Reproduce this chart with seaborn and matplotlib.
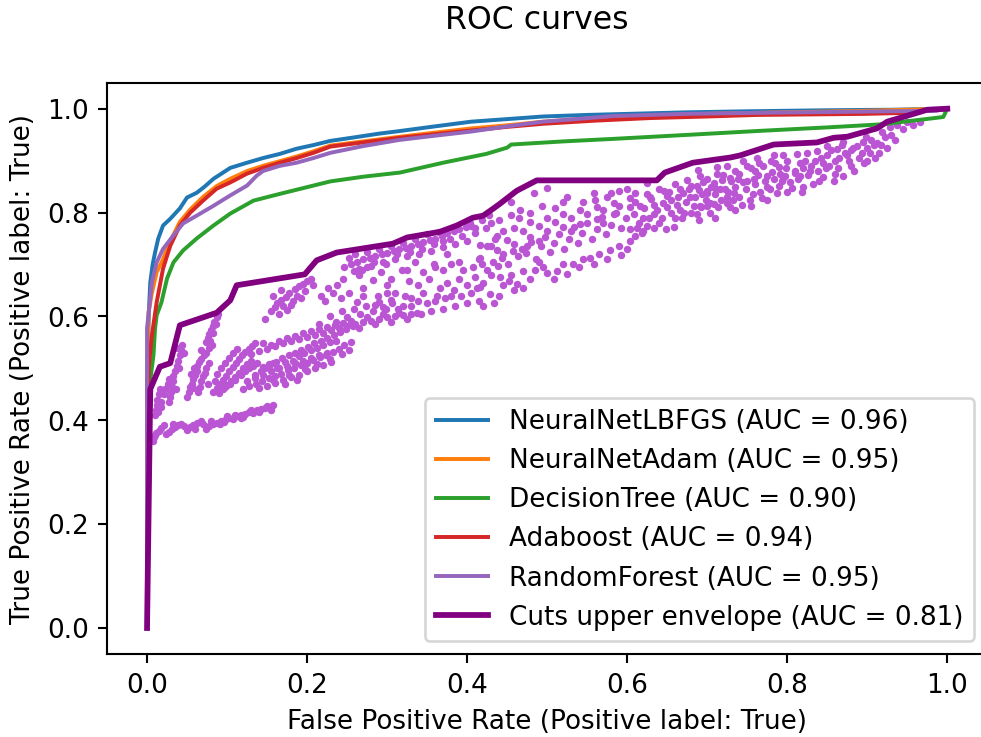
import matplotlib
matplotlib.use("Agg")
import matplotlib.pyplot as plt
import seaborn as sns
import numpy as np
import pandas as pd

# ---------------- data ----------------
labels = ["NeuralNetLBFGS (AUC = 0.96)", "NeuralNetAdam (AUC = 0.95)",
          "DecisionTree (AUC = 0.90)", "Adaboost (AUC = 0.94)",
          "RandomForest (AUC = 0.95)", "Cuts upper envelope (AUC = 0.81)"]

lbfgs_fpr = [0, 0.0, 0.002, 0.004, 0.007, 0.01, 0.014, 0.02, 0.029, 0.041, 0.05, 0.062, 0.072, 0.083,
             0.094, 0.104, 0.125, 0.145, 0.166, 0.187, 0.208, 0.229, 0.26, 0.29, 0.316, 0.35, 0.38,
             0.405, 0.45, 0.495, 0.55, 0.6, 0.674, 0.75, 0.85, 0.93, 1.0]
lbfgs_tpr = [0, 0.45, 0.6, 0.665, 0.7, 0.723, 0.75, 0.775, 0.788, 0.808, 0.829, 0.838, 0.85, 0.865,
             0.876, 0.886, 0.896, 0.905, 0.913, 0.923, 0.93, 0.938, 0.945, 0.952, 0.957, 0.964, 0.97,
             0.975, 0.98, 0.985, 0.988, 0.99, 0.993, 0.995, 0.997, 0.998, 1.0]

adam_fpr = [0, 0.0, 0.002, 0.006, 0.012, 0.02, 0.029, 0.041, 0.054, 0.07, 0.087, 0.104, 0.125, 0.145,
            0.166, 0.187, 0.208, 0.229, 0.27, 0.316, 0.36, 0.405, 0.45, 0.495, 0.56, 0.629, 0.7, 0.762,
            0.83, 0.9, 1.0]
adam_tpr = [0, 0.45, 0.608, 0.645, 0.685, 0.71, 0.745, 0.782, 0.806, 0.83, 0.851, 0.865, 0.88, 0.89,
            0.899, 0.908, 0.918, 0.929, 0.937, 0.946, 0.954, 0.962, 0.968, 0.975, 0.982, 0.987, 0.99,
            0.992, 0.994, 0.996, 1.0]

tree_fpr = [0, 0.004, 0.008, 0.01, 0.012, 0.018, 0.025, 0.033, 0.045, 0.062, 0.083, 0.104, 0.133, 0.166,
            0.208, 0.229, 0.27, 0.316, 0.37, 0.424, 0.45, 0.455, 0.52, 0.584, 0.68, 0.762, 0.85, 0.919,
            0.995, 1.0]
tree_tpr = [0, 0.477, 0.525, 0.577, 0.602, 0.627, 0.673, 0.704, 0.727, 0.75, 0.775, 0.798, 0.823, 0.836,
            0.852, 0.86, 0.869, 0.877, 0.896, 0.913, 0.925, 0.931, 0.937, 0.942, 0.95, 0.957, 0.964, 0.97,
            0.984, 1.0]

ada_fpr = [0, 0.002, 0.006, 0.012, 0.02, 0.029, 0.041, 0.054, 0.07, 0.087, 0.104, 0.125, 0.145, 0.166,
           0.187, 0.208, 0.229, 0.27, 0.316, 0.36, 0.405, 0.45, 0.495, 0.56, 0.629, 0.7, 0.762, 0.83,
           0.896, 0.95, 1.0]
ada_tpr = [0, 0.5, 0.563, 0.627, 0.692, 0.736, 0.775, 0.8, 0.823, 0.846, 0.858, 0.875, 0.886, 0.896,
           0.905, 0.915, 0.927, 0.935, 0.944, 0.951, 0.958, 0.965, 0.971, 0.977, 0.982, 0.985, 0.988,
           0.989, 0.99, 0.992, 1.0]

rf_fpr = [0, 0.0, 0.006, 0.012, 0.02, 0.033, 0.045, 0.062, 0.083, 0.104, 0.125, 0.137, 0.145, 0.166,
          0.187, 0.208, 0.229, 0.27, 0.316, 0.36, 0.405, 0.45, 0.495, 0.584, 0.67, 0.762, 0.87, 0.986, 1.0]
rf_tpr = [0, 0.577, 0.665, 0.704, 0.73, 0.756, 0.779, 0.794, 0.813, 0.833, 0.852, 0.871, 0.88, 0.89,
          0.896, 0.905, 0.915, 0.928, 0.94, 0.948, 0.956, 0.966, 0.975, 0.986, 0.99, 0.992, 0.994, 0.996, 1.0]

env_fpr = [0, 0.004, 0.016, 0.029, 0.041, 0.087, 0.104, 0.112, 0.197, 0.212, 0.237, 0.307, 0.325, 0.366,
           0.387, 0.407, 0.42, 0.433, 0.441, 0.462, 0.487, 0.637, 0.647, 0.682, 0.729, 0.741, 0.783,
           0.837, 0.858, 0.875, 0.912, 0.925, 0.975, 1.0]
env_tpr = [0, 0.46, 0.503, 0.51, 0.583, 0.607, 0.631, 0.66, 0.681, 0.708, 0.723, 0.74, 0.752, 0.763,
           0.775, 0.79, 0.794, 0.808, 0.817, 0.842, 0.862, 0.862, 0.877, 0.896, 0.906, 0.91, 0.931,
           0.935, 0.944, 0.946, 0.962, 0.975, 0.998, 1.0]

# individual cut working points
cut_points = [
    # lowest band
    (0.007, 0.36), (0.009, 0.368), (0.011, 0.375), (0.015, 0.38), (0.018, 0.386), (0.021, 0.391),
    (0.027, 0.378), (0.031, 0.383), (0.035, 0.387), (0.039, 0.39), (0.043, 0.393), (0.05, 0.382),
    (0.054, 0.387), (0.058, 0.39), (0.063, 0.395), (0.067, 0.398), (0.074, 0.384), (0.078, 0.389),
    (0.083, 0.392), (0.088, 0.395), (0.093, 0.398), (0.098, 0.401), (0.103, 0.404), (0.108, 0.403),
    (0.113, 0.408), (0.118, 0.41), (0.123, 0.412), (0.128, 0.415), (0.133, 0.414), (0.138, 0.419),
    (0.143, 0.421), (0.148, 0.423), (0.153, 0.426), (0.157, 0.429), (0.096, 0.396), (0.118, 0.404),
    (0.01, 0.372), (0.024, 0.374), (0.033, 0.392), (0.046, 0.389), (0.06, 0.384), (0.07, 0.392),
    (0.08, 0.398), (0.091, 0.392), (0.1, 0.408), (0.11, 0.41), (0.12, 0.407), (0.13, 0.42),
    (0.14, 0.415), (0.15, 0.428), (0.155, 0.42),
    # vertical streaks close to x = 0
    (0.010, 0.41), (0.011, 0.42), (0.012, 0.43), (0.013, 0.44), (0.015, 0.45), (0.016, 0.46),
    (0.014, 0.415), (0.017, 0.425), (0.018, 0.435), (0.028, 0.435), (0.029, 0.445), (0.030, 0.455),
    (0.031, 0.465), (0.032, 0.475), (0.033, 0.485), (0.035, 0.495), (0.037, 0.505), (0.039, 0.515),
    (0.041, 0.525), (0.042, 0.535), (0.026, 0.47), (0.027, 0.48), (0.036, 0.46), (0.04, 0.5),
    (0.044, 0.545), (0.046, 0.53), (0.038, 0.54), (0.021, 0.45), (0.023, 0.46),
    # cluster near x = 0.05-0.075
    (0.05, 0.445), (0.052, 0.455), (0.054, 0.465), (0.056, 0.47), (0.058, 0.48), (0.06, 0.488),
    (0.062, 0.495), (0.064, 0.455), (0.066, 0.465), (0.068, 0.475), (0.07, 0.485), (0.072, 0.492),
    (0.074, 0.5), (0.062, 0.505), (0.065, 0.512), (0.068, 0.518), (0.071, 0.525), (0.074, 0.53),
    (0.067, 0.535), (0.077, 0.54), (0.081, 0.545), (0.058, 0.462), (0.055, 0.49), (0.059, 0.5),
    (0.078, 0.51), (0.076, 0.47),
    # band e
    (0.083, 0.455), (0.087, 0.462), (0.091, 0.47), (0.095, 0.478), (0.099, 0.486), (0.103, 0.494),
    (0.107, 0.502), (0.111, 0.51), (0.115, 0.518), (0.119, 0.525), (0.123, 0.532), (0.127, 0.538),
    (0.131, 0.544), (0.135, 0.548), (0.09, 0.452), (0.095, 0.46), (0.1, 0.468), (0.105, 0.476),
    (0.11, 0.484), (0.115, 0.492), (0.12, 0.5), (0.125, 0.508), (0.13, 0.515), (0.085, 0.475),
    (0.088, 0.49), (0.092, 0.5), (0.097, 0.51), (0.102, 0.52), (0.108, 0.53), (0.113, 0.538),
    (0.098, 0.465), (0.104, 0.47), (0.11, 0.478), (0.117, 0.488), (0.122, 0.495), (0.128, 0.5),
    (0.133, 0.505), (0.138, 0.51),
    # band f
    (0.12, 0.46), (0.128, 0.466), (0.136, 0.47), (0.144, 0.476), (0.152, 0.481), (0.16, 0.486),
    (0.168, 0.49), (0.176, 0.496), (0.184, 0.5), (0.192, 0.506), (0.2, 0.511), (0.208, 0.516),
    (0.216, 0.521), (0.224, 0.526), (0.232, 0.531), (0.24, 0.537), (0.125, 0.475), (0.135, 0.482),
    (0.145, 0.488), (0.155, 0.494), (0.165, 0.5), (0.175, 0.505), (0.185, 0.51), (0.195, 0.515),
    (0.205, 0.52), (0.215, 0.525), (0.225, 0.53), (0.14, 0.462), (0.15, 0.466), (0.16, 0.472),
    (0.17, 0.478), (0.18, 0.483), (0.19, 0.488), (0.2, 0.495), (0.21, 0.5), (0.22, 0.506),
    (0.23, 0.512), (0.173, 0.47), (0.188, 0.478), (0.142, 0.495), (0.147, 0.5), (0.152, 0.505),
    (0.157, 0.51), (0.162, 0.5), (0.172, 0.512), (0.182, 0.515), (0.19, 0.524), (0.196, 0.53),
    (0.205, 0.535), (0.212, 0.54), (0.22, 0.545), (0.228, 0.55), (0.236, 0.553), (0.135, 0.488),
    (0.158, 0.478), (0.178, 0.488), (0.197, 0.498), (0.213, 0.508), (0.228, 0.518), (0.243, 0.527),
    (0.252, 0.535), (0.246, 0.545), (0.255, 0.55),
    # band g / h
    (0.145, 0.502), (0.153, 0.508), (0.161, 0.513), (0.169, 0.519), (0.177, 0.525), (0.185, 0.53),
    (0.193, 0.536), (0.201, 0.542), (0.209, 0.548), (0.217, 0.553), (0.225, 0.559), (0.233, 0.565),
    (0.241, 0.57), (0.249, 0.576), (0.257, 0.582), (0.13, 0.528), (0.14, 0.534), (0.15, 0.538),
    (0.16, 0.543), (0.17, 0.548), (0.18, 0.552), (0.19, 0.556), (0.2, 0.56), (0.21, 0.565),
    (0.22, 0.569), (0.23, 0.574), (0.24, 0.578), (0.25, 0.582), (0.26, 0.586), (0.27, 0.589),
    (0.28, 0.592), (0.29, 0.595), (0.3, 0.598), (0.31, 0.6), (0.32, 0.603), (0.33, 0.605),
    (0.337, 0.607), (0.265, 0.578), (0.285, 0.585), (0.305, 0.59), (0.145, 0.548), (0.155, 0.545),
    (0.165, 0.552), (0.175, 0.558), (0.185, 0.562), (0.195, 0.568), (0.205, 0.572), (0.215, 0.576),
    (0.225, 0.58), (0.235, 0.584), (0.245, 0.588), (0.255, 0.592), (0.275, 0.598), (0.295, 0.604),
    (0.315, 0.607), (0.325, 0.595),
    # streak under the envelope at x ~ 0.08
    (0.074, 0.55), (0.076, 0.558), (0.078, 0.566), (0.08, 0.574), (0.082, 0.582), (0.084, 0.59),
    (0.087, 0.598), (0.089, 0.604), (0.079, 0.552), (0.083, 0.568), (0.086, 0.585),
    # cluster around (0.18, 0.64)
    (0.155, 0.61), (0.16, 0.618), (0.163, 0.625), (0.167, 0.632), (0.17, 0.62), (0.174, 0.638),
    (0.178, 0.645), (0.182, 0.63), (0.185, 0.652), (0.188, 0.64), (0.19, 0.658), (0.195, 0.662),
    (0.198, 0.648), (0.2, 0.668), (0.205, 0.672), (0.208, 0.66), (0.165, 0.605), (0.175, 0.612),
    (0.18, 0.622), (0.192, 0.635), (0.158, 0.64), (0.168, 0.65), (0.147, 0.595),
    # scattered 0.21-0.42, 0.58-0.70
    (0.237, 0.66), (0.245, 0.672), (0.252, 0.645), (0.258, 0.688), (0.265, 0.68), (0.27, 0.655),
    (0.275, 0.695), (0.282, 0.67), (0.288, 0.64), (0.292, 0.685), (0.3, 0.66), (0.305, 0.632),
    (0.31, 0.645), (0.285, 0.622), (0.295, 0.618), (0.222, 0.63), (0.262, 0.628),
    (0.215, 0.585), (0.228, 0.6), (0.236, 0.59), (0.244, 0.61), (0.25, 0.598), (0.258, 0.615),
    (0.266, 0.605), (0.274, 0.62), (0.282, 0.61), (0.29, 0.628), (0.298, 0.615), (0.306, 0.625),
    (0.314, 0.615), (0.322, 0.64), (0.33, 0.62), (0.338, 0.63), (0.35, 0.625), (0.362, 0.64),
    (0.372, 0.635), (0.38, 0.64), (0.392, 0.64), (0.405, 0.645), (0.412, 0.655),
    (0.305, 0.672), (0.318, 0.69), (0.327, 0.668), (0.335, 0.705), (0.345, 0.685), (0.358, 0.7),
    (0.37, 0.69), (0.38, 0.7), (0.395, 0.69), (0.407, 0.695), (0.418, 0.7), (0.218, 0.64),
    (0.226, 0.655), (0.232, 0.645), (0.242, 0.635), (0.27, 0.64), (0.3, 0.645),
    # dense band 0.25-0.43, 0.69-0.80
    (0.255, 0.70), (0.262, 0.705), (0.27, 0.71), (0.278, 0.712), (0.285, 0.716), (0.293, 0.72),
    (0.3, 0.722), (0.308, 0.726), (0.315, 0.73), (0.323, 0.732), (0.33, 0.736), (0.338, 0.74),
    (0.345, 0.743), (0.353, 0.747), (0.36, 0.75), (0.368, 0.755), (0.375, 0.76), (0.383, 0.764),
    (0.39, 0.768), (0.398, 0.772), (0.405, 0.775), (0.265, 0.692), (0.28, 0.698), (0.295, 0.705),
    (0.31, 0.71), (0.325, 0.716), (0.34, 0.72), (0.355, 0.726), (0.37, 0.733), (0.385, 0.74),
    (0.4, 0.745), (0.335, 0.75), (0.35, 0.758), (0.37, 0.745), (0.246, 0.695), (0.252, 0.712),
    (0.26, 0.72), (0.268, 0.69), (0.275, 0.725), (0.283, 0.705), (0.29, 0.73), (0.298, 0.7),
    (0.305, 0.735), (0.312, 0.72), (0.32, 0.742), (0.328, 0.725), (0.343, 0.73), (0.358, 0.74),
    (0.365, 0.762), (0.378, 0.75), (0.385, 0.772), (0.393, 0.755), (0.403, 0.78), (0.41, 0.77),
    (0.418, 0.785), (0.424, 0.77), (0.427, 0.795),
    # x 0.32-0.44, y 0.6-0.78
    (0.32, 0.62), (0.33, 0.635), (0.338, 0.66), (0.345, 0.645), (0.352, 0.672), (0.36, 0.63),
    (0.366, 0.655), (0.375, 0.665), (0.383, 0.65), (0.39, 0.672), (0.4, 0.66), (0.41, 0.675),
    (0.42, 0.665), (0.43, 0.68), (0.355, 0.61), (0.37, 0.615), (0.385, 0.62), (0.4, 0.625),
    (0.415, 0.63), (0.342, 0.605), (0.325, 0.69), (0.36, 0.695), (0.39, 0.705), (0.415, 0.71),
    (0.375, 0.72), (0.425, 0.735), (0.435, 0.75), (0.445, 0.765), (0.41, 0.76), (0.43, 0.78),
    # x 0.42-0.73
    (0.416, 0.737), (0.437, 0.754), (0.458, 0.771), (0.479, 0.781), (0.5, 0.79), (0.52, 0.797),
    (0.541, 0.804), (0.562, 0.811), (0.583, 0.819), (0.604, 0.828), (0.625, 0.836), (0.646, 0.841),
    (0.666, 0.846), (0.687, 0.851), (0.708, 0.856), (0.729, 0.867), (0.47, 0.765), (0.49, 0.775),
    (0.51, 0.782), (0.53, 0.79), (0.55, 0.797), (0.57, 0.804), (0.59, 0.812), (0.61, 0.82),
    (0.63, 0.826), (0.65, 0.832), (0.67, 0.838), (0.69, 0.843), (0.71, 0.848),
    (0.483, 0.838), (0.5, 0.848), (0.466, 0.804), (0.625, 0.856), (0.675, 0.862), (0.689, 0.881),
    (0.712, 0.887), (0.56, 0.825), (0.6, 0.845), (0.52, 0.82), (0.455, 0.82), (0.58, 0.838),
    (0.416, 0.713), (0.437, 0.727), (0.458, 0.74), (0.479, 0.752), (0.5, 0.765), (0.52, 0.772),
    (0.541, 0.778), (0.562, 0.787), (0.583, 0.797), (0.604, 0.81), (0.445, 0.72), (0.49, 0.745),
    (0.53, 0.765), (0.57, 0.78), (0.475, 0.735),
    (0.416, 0.656), (0.441, 0.675), (0.47, 0.688), (0.5, 0.683), (0.512, 0.688), (0.532, 0.701),
    (0.554, 0.713), (0.579, 0.727), (0.604, 0.746), (0.62, 0.765), (0.455, 0.68), (0.485, 0.69),
    (0.52, 0.7), (0.545, 0.71), (0.565, 0.72), (0.59, 0.735), (0.61, 0.755), (0.49, 0.705),
    (0.429, 0.644), (0.458, 0.65), (0.42, 0.621), (0.433, 0.625), (0.47, 0.655), (0.445, 0.66),
    (0.425, 0.69), (0.432, 0.705), (0.438, 0.698), (0.444, 0.712), (0.451, 0.7), (0.457, 0.726),
    (0.463, 0.716), (0.468, 0.73), (0.474, 0.722), (0.48, 0.744), (0.486, 0.71), (0.492, 0.735),
    (0.497, 0.752), (0.503, 0.725), (0.509, 0.742), (0.515, 0.758), (0.521, 0.73), (0.527, 0.75),
    (0.533, 0.772), (0.538, 0.742), (0.544, 0.76), (0.55, 0.78), (0.556, 0.75), (0.562, 0.768),
    (0.568, 0.792), (0.574, 0.758), (0.58, 0.776), (0.586, 0.8), (0.592, 0.77), (0.598, 0.79),
    (0.603, 0.768), (0.609, 0.798), (0.615, 0.78), (0.621, 0.808), (0.627, 0.79), (0.633, 0.815),
    (0.44, 0.64), (0.452, 0.668), (0.462, 0.662), (0.478, 0.672), (0.495, 0.695), (0.508, 0.672),
    (0.525, 0.682), (0.54, 0.695), (0.558, 0.7), (0.575, 0.71), (0.592, 0.718), (0.6, 0.73),
    (0.43, 0.735), (0.45, 0.748), (0.465, 0.79), (0.478, 0.8), (0.493, 0.812), (0.51, 0.808),
    (0.525, 0.83), (0.545, 0.82), (0.558, 0.838), (0.575, 0.83), (0.59, 0.842), (0.61, 0.838),
    (0.44, 0.785), (0.455, 0.795),
    # x 0.6-0.82
    (0.666, 0.804), (0.687, 0.798), (0.708, 0.817), (0.725, 0.829), (0.65, 0.81), (0.633, 0.798),
    (0.679, 0.829), (0.7, 0.842), (0.64, 0.78), (0.66, 0.79), (0.655, 0.825), (0.62, 0.79),
    (0.612, 0.77), (0.618, 0.76), (0.625, 0.775), (0.637, 0.805), (0.643, 0.79), (0.648, 0.768),
    (0.655, 0.8), (0.662, 0.815), (0.668, 0.79), (0.673, 0.82), (0.68, 0.8), (0.685, 0.83),
    (0.692, 0.81), (0.698, 0.825), (0.703, 0.8), (0.71, 0.835), (0.717, 0.825), (0.722, 0.845),
    (0.728, 0.81), (0.735, 0.85), (0.74, 0.83), (0.748, 0.845), (0.753, 0.825), (0.76, 0.855),
    (0.766, 0.84), (0.772, 0.86), (0.778, 0.845), (0.784, 0.865), (0.79, 0.852), (0.797, 0.87),
    (0.803, 0.858), (0.81, 0.876), (0.64, 0.845), (0.66, 0.855), (0.68, 0.852), (0.7, 0.865),
    (0.72, 0.872), (0.735, 0.88), (0.75, 0.89), (0.765, 0.895), (0.78, 0.9), (0.69, 0.785),
    (0.71, 0.79), (0.735, 0.805), (0.755, 0.812), (0.775, 0.825), (0.8, 0.84), (0.82, 0.85),
    (0.84, 0.86), (0.86, 0.875), (0.88, 0.89), (0.9, 0.9), (0.915, 0.915),
    (0.616, 0.812), (0.628, 0.83), (0.634, 0.77), (0.645, 0.818), (0.652, 0.84), (0.658, 0.772),
    (0.664, 0.83), (0.671, 0.8), (0.677, 0.845), (0.683, 0.812), (0.694, 0.835), (0.7, 0.812),
    (0.705, 0.85), (0.713, 0.81), (0.719, 0.862), (0.726, 0.84), (0.732, 0.825), (0.738, 0.865),
    (0.743, 0.815), (0.75, 0.86), (0.757, 0.835), (0.763, 0.872), (0.769, 0.828), (0.775, 0.85),
    (0.781, 0.878), (0.787, 0.838), (0.793, 0.86), (0.799, 0.885), (0.806, 0.848), (0.813, 0.865),
    (0.818, 0.84), (0.826, 0.872), (0.832, 0.855), (0.838, 0.88), (0.845, 0.868), (0.852, 0.89),
    (0.858, 0.86), (0.864, 0.885), (0.87, 0.87), (0.877, 0.9), (0.884, 0.88), (0.89, 0.905),
    (0.896, 0.895), (0.903, 0.915), (0.91, 0.905), (0.917, 0.93), (0.925, 0.925), (0.935, 0.94),
    # right part
    (0.691, 0.871), (0.712, 0.875), (0.725, 0.89), (0.745, 0.9), (0.762, 0.906), (0.783, 0.91),
    (0.795, 0.91), (0.812, 0.913), (0.816, 0.896), (0.825, 0.915), (0.837, 0.919), (0.85, 0.929),
    (0.862, 0.923), (0.87, 0.935), (0.887, 0.929), (0.895, 0.935), (0.912, 0.933), (0.918, 0.956),
    (0.929, 0.965), (0.937, 0.969), (0.957, 0.969), (0.691, 0.813), (0.704, 0.819), (0.725, 0.819),
    (0.733, 0.838), (0.745, 0.858), (0.758, 0.865), (0.775, 0.871), (0.791, 0.875), (0.795, 0.867),
    (0.816, 0.871), (0.7, 0.838), (0.716, 0.846), (0.695, 0.858), (0.74, 0.875), (0.755, 0.885),
    (0.77, 0.89), (0.785, 0.895), (0.8, 0.9), (0.73, 0.86), (0.76, 0.88), (0.79, 0.888),
    (0.82, 0.885), (0.835, 0.9), (0.85, 0.91), (0.845, 0.895), (0.865, 0.905), (0.88, 0.92),
    (0.9, 0.925), (0.905, 0.94), (0.81, 0.88), (0.83, 0.89), (0.872, 0.915),
    (0.822, 0.9), (0.828, 0.88), (0.842, 0.905), (0.848, 0.885), (0.855, 0.92), (0.86, 0.9),
    (0.868, 0.93), (0.875, 0.91), (0.882, 0.925), (0.893, 0.915), (0.898, 0.945), (0.908, 0.93),
    (0.922, 0.945), (0.93, 0.95), (0.945, 0.96), (0.95, 0.975), (0.966, 0.975),
]

curves = [(lbfgs_fpr, lbfgs_tpr), (adam_fpr, adam_tpr), (tree_fpr, tree_tpr),
          (ada_fpr, ada_tpr), (rf_fpr, rf_tpr), (env_fpr, env_tpr)]
colors = ["#1f77b4", "#ff7f0e", "#2ca02c", "#d62728", "#9467bd", "purple"]
widths = [1.5, 1.5, 1.5, 1.5, 1.5, 2.2]

# ---------------- figure ----------------
DPI = 189
fig = plt.figure(figsize=(981.3 / DPI, 737.3 / DPI), dpi=DPI)
W, H = 981, 737
ax = fig.add_axes([107 / W, (H - 654) / H, (987 - 107) / W, (654 - 83) / H])

cuts = pd.DataFrame(cut_points, columns=["fpr", "tpr"])
sns.scatterplot(data=cuts, x="fpr", y="tpr", ax=ax, color="#ba55d3", s=8,
                linewidth=0, legend=False, zorder=1)

for (fx, ty), lab, col, lw in zip(curves, labels, colors, widths):
    df = pd.DataFrame({"fpr": fx, "tpr": ty})
    sns.lineplot(data=df, x="fpr", y="tpr", ax=ax, sort=False, estimator=None,
                 color=col, linewidth=lw, label=lab)

ax.set_xlim(-0.05, 1.05)
ax.set_ylim(-0.05, 1.05)
ax.set_xticks([0, 0.2, 0.4, 0.6, 0.8, 1.0])
ax.set_yticks([0, 0.2, 0.4, 0.6, 0.8, 1.0])
ax.set_xlabel("False Positive Rate (Positive label: True)", fontsize=10)
ax.set_ylabel("True Positive Rate (Positive label: True)", fontsize=10)
ax.legend(loc="lower right", fontsize=10)
fig.text(537 / W, 1 - 20 / H, "ROC curves", ha="center", va="center", fontsize=12)

fig.savefig("out.png", dpi=DPI)
